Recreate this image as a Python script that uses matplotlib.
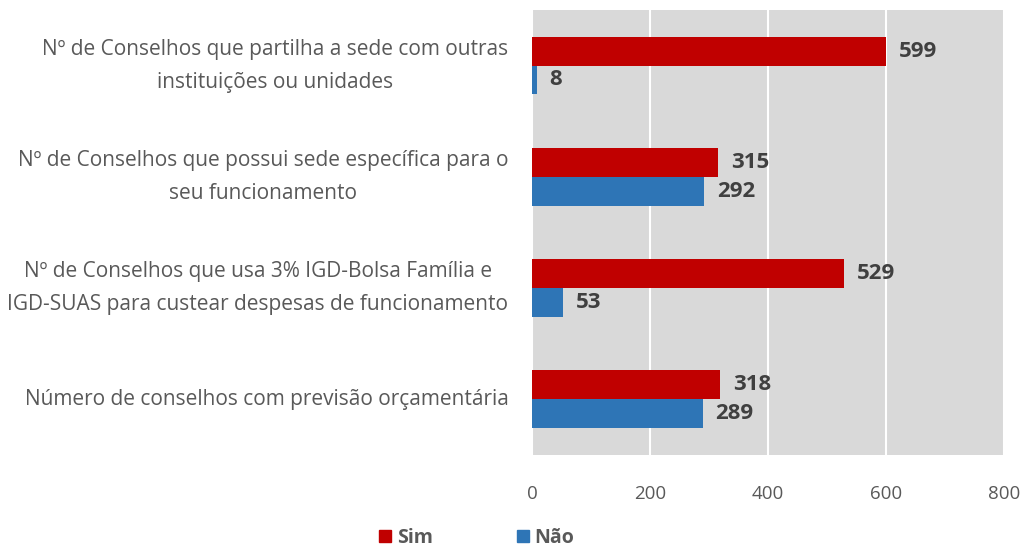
import matplotlib.pyplot as plt
import numpy as np
from matplotlib.patches import Patch

categorias = [
    "Nº de Conselhos que partilha a sede com outras\ninstituições ou unidades",
    "Nº de Conselhos que possui sede específica para o\nseu funcionamento",
    "Nº de Conselhos que usa 3% IGD-Bolsa Família e\nIGD-SUAS para custear despesas de funcionamento",
    "Número de conselhos com previsão orçamentária",
]
sim = [599, 315, 529, 318]
nao = [8, 292, 53, 289]
xticks = [0, 200, 400, 600, 800]

plt.rcParams['font.family'] = ['Open Sans', 'DejaVu Sans']

cor_sim = "#C00000"
cor_nao = "#2E75B6"
cinza = "#595959"

fig = plt.figure(figsize=(10.32, 5.5), dpi=100)
ax = fig.add_axes([0.5155, 0.173, 0.4575, 0.809])
ax.set_facecolor("#D9D9D9")

y = np.arange(len(categorias))
h = 0.26
ax.barh(y - h / 2, sim, height=h, color=cor_sim, zorder=3)
ax.barh(y + h / 2, nao, height=h, color=cor_nao, zorder=3)

for yi, v in zip(y, sim):
    ax.text(v + 22, yi - h / 2, str(v), va="center", ha="left",
            fontsize=16, fontweight="bold", color="#404040", zorder=4)
for yi, v in zip(y, nao):
    ax.text(v + 22, yi + h / 2, str(v), va="center", ha="left",
            fontsize=16, fontweight="bold", color="#404040", zorder=4)

ax.set_xlim(0, 800)
ax.set_ylim(len(categorias) - 0.5, -0.5)
ax.set_xticks(xticks)
ax.set_yticks(y)
ax.set_yticklabels(categorias, ha="right", multialignment="center",
                   fontsize=15, color=cinza, linespacing=1.75, va="center")
ax.tick_params(axis="y", length=0, pad=17)
ax.tick_params(axis="x", length=0, pad=22, labelsize=13.5, labelcolor=cinza)
ax.grid(axis="x", color="white", linewidth=1.5, zorder=1)
ax.set_axisbelow(True)
for s in ax.spines.values():
    s.set_visible(False)

handles = [Patch(color=cor_sim, label="Sim"), Patch(color=cor_nao, label="Não")]
leg = fig.legend(handles=handles, loc="center", bbox_to_anchor=(0.462, 0.022),
                 ncol=2, frameon=False, handlelength=0.62, handleheight=0.62,
                 handletextpad=0.3, columnspacing=4.3,
                 prop={"weight": "bold", "size": 14})
for t in leg.get_texts():
    t.set_color(cinza)

fig.savefig("out.png", dpi=100)
